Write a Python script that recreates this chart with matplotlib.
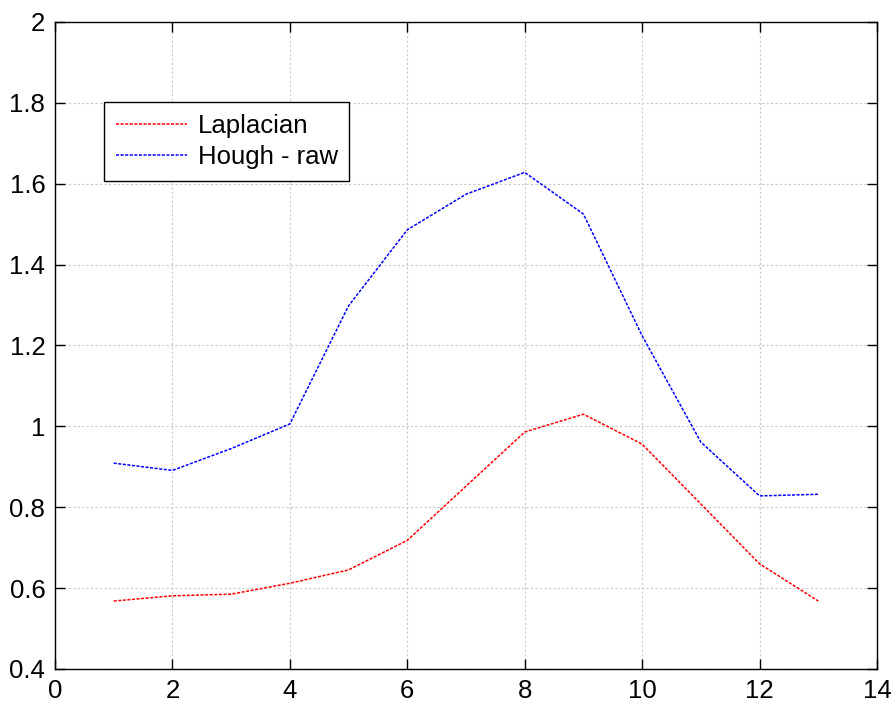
import matplotlib
matplotlib.use("Agg")
import matplotlib.pyplot as plt

x = [1, 2, 3, 4, 5, 6, 7, 8, 9, 10, 11, 12, 13]
laplacian = [0.568, 0.581, 0.585, 0.612, 0.645, 0.718, 0.852, 0.986, 1.030, 0.956, 0.808, 0.660, 0.568]
hough_raw = [0.909, 0.891, 0.945, 1.006, 1.298, 1.486, 1.574, 1.628, 1.525, 1.224, 0.961, 0.828, 0.832]

plt.rcParams['font.family'] = ['Liberation Sans', 'DejaVu Sans']

fig = plt.figure(figsize=(8.94, 7.08), dpi=100)
ax = fig.add_axes([0.0615, 0.0551, 0.9195, 0.9139])

ax.plot(x, laplacian, color='red', linestyle=(0, (2, 1)), linewidth=1.1, label='Laplacian')
ax.plot(x, hough_raw, color='blue', linestyle=(0, (2, 1)), linewidth=1.1, label='Hough - raw')

ax.set_xlim(0, 14)
ax.set_ylim(0.4, 2.0)
ax.set_xticks(range(0, 15, 2))
ax.set_yticks([0.4, 0.6, 0.8, 1.0, 1.2, 1.4, 1.6, 1.8, 2.0])
ax.set_yticklabels(['0.4', '0.6', '0.8', '1', '1.2', '1.4', '1.6', '1.8', '2'])
ax.grid(True, color='#c8c8c8', linestyle=(0, (2, 2)), linewidth=0.8)
ax.tick_params(direction='in', top=True, right=True, labelsize=18.5, length=7, width=1, pad=7)
for s in ax.spines.values():
    s.set_linewidth(1.0)

leg = ax.legend(loc='upper left', bbox_to_anchor=(0.0596, 0.876), borderaxespad=0, fontsize=18.5,
                frameon=True, fancybox=False, edgecolor='black', framealpha=1,
                handlelength=2.8, borderpad=0.45, labelspacing=0.3, handletextpad=0.4)
leg.get_frame().set_linewidth(1.0)

fig.savefig('out.png', dpi=100)
